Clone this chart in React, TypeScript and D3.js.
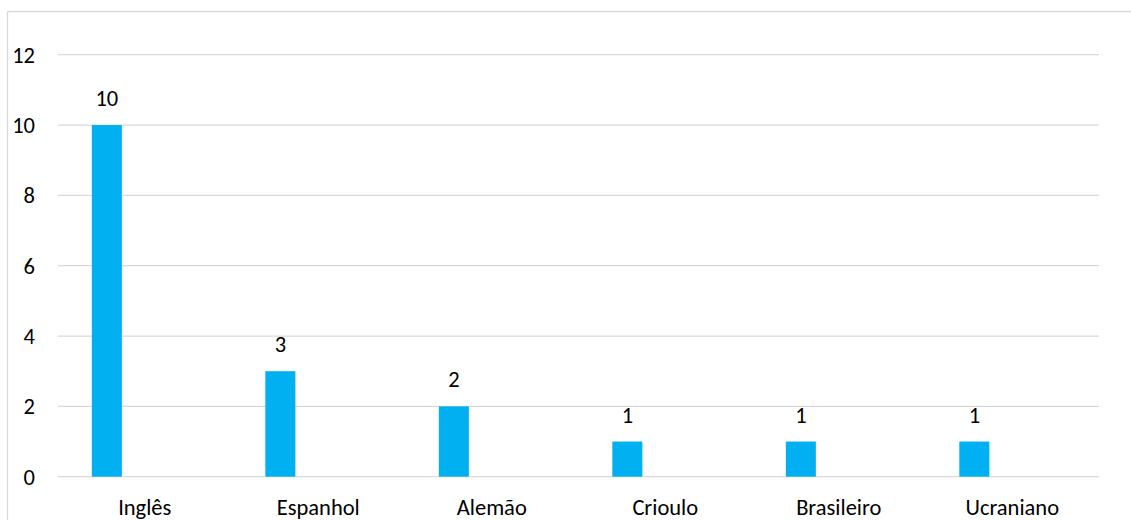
import React from "react";
import * as d3 from "d3";

const categories = ["Inglês", "Espanhol", "Alemão", "Crioulo", "Brasileiro", "Ucraniano"];
const values = [10, 3, 2, 1, 1, 1];
const yTicks = [0, 2, 4, 6, 8, 10, 12];

const W = 1131;
const H = 520;
const FONT = "Calibri, Carlito, Lato, 'Open Sans', sans-serif";
const FS = 22.5;

export default function App() {
  const plot = { left: 58, right: 1099, top: 54.7, bottom: 476.7 };

  const x = d3.scaleBand<string>().domain(categories).range([plot.left, plot.right]).padding(0);
  const y = d3.scaleLinear().domain([0, 12]).range([plot.bottom, plot.top]);
  const bw = x.bandwidth();
  const barOffset = bw * 0.195;
  const barWidth = bw * 0.173;

  return (
    <svg
      width={W}
      height={H}
      style={{ position: "absolute", left: 0, top: 0, background: "#fff" }}
      fontFamily={FONT}
    >
      <rect x={0} y={0} width={W} height={H} fill="#fff" />
      {/* chart frame */}
      <line x1={7.5} x2={W} y1={11.5} y2={11.5} stroke="#d9d9d9" strokeWidth={1.3} />
      <line x1={7.5} x2={7.5} y1={11.5} y2={H} stroke="#d9d9d9" strokeWidth={1.3} />

      {/* gridlines and y axis labels */}
      {yTicks.map((t) => (
        <g key={t}>
          <line x1={plot.left} x2={plot.right} y1={y(t)} y2={y(t)} stroke="#d9d9d9" strokeWidth={1.3} />
          <text x={35} y={y(t)} dy="0.35em" textAnchor="end" fontSize={FS} fill="#000">
            {t}
          </text>
        </g>
      ))}

      {/* bars */}
      {categories.map((c, i) => (
        <rect
          key={c}
          x={(x(c) as number) + barOffset}
          y={y(values[i])}
          width={barWidth}
          height={y(0) - y(values[i])}
          fill="#00b0f0"
        />
      ))}

      {/* value labels */}
      {categories.map((c, i) => (
        <text
          key={c + "-v"}
          x={(x(c) as number) + barOffset + barWidth / 2}
          y={y(values[i]) - 19}
          textAnchor="middle"
          fontSize={FS}
          fill="#000"
        >
          {values[i]}
        </text>
      ))}

      {/* category labels */}
      {categories.map((c) => (
        <text
          key={c + "-l"}
          x={(x(c) as number) + bw / 2}
          y={515}
          textAnchor="middle"
          fontSize={FS}
          fill="#000"
        >
          {c}
        </text>
      ))}
    </svg>
  );
}
